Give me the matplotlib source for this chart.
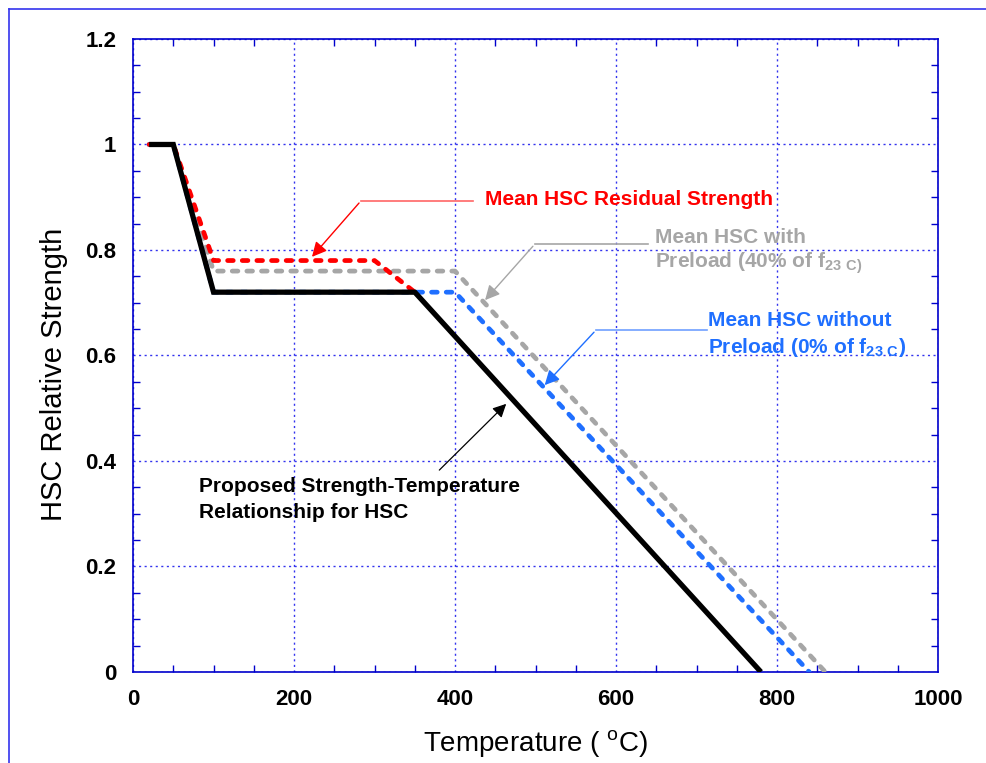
import numpy as np
import matplotlib
matplotlib.use("Agg")
import matplotlib.pyplot as plt
from matplotlib.lines import Line2D

plt.rcParams['font.family'] = ['Liberation Sans', 'DejaVu Sans']

# data (temperature in C, relative strength)
t_prop = [20, 50, 100, 350, 780]
s_prop = [1.0, 1.0, 0.72, 0.72, 0.0]

t_resid = [20, 50, 100, 300, 350]
s_resid = [1.0, 1.0, 0.78, 0.78, 0.72]

t_pre40 = [20, 50, 100, 400, 860]
s_pre40 = [1.0, 1.0, 0.76, 0.76, 0.0]

t_pre0 = [20, 50, 100, 400, 840]
s_pre0 = [1.0, 1.0, 0.72, 0.72, 0.0]

xticks = [0, 200, 400, 600, 800, 1000]
yticks = [0, 0.2, 0.4, 0.6, 0.8, 1.0, 1.2]
ytick_labels = ['0', '0.2', '0.4', '0.6', '0.8', '1', '1.2']

RED = '#ff0000'
GRAY = '#a6a6a6'
BLUE = '#1f6fff'
FRAME = '#0000cc'

fig = plt.figure(figsize=(9.87, 7.63), dpi=100)
ax = fig.add_axes([0.1348, 0.1193, 0.8156, 0.8296])

dash = dict(linestyle=(0, (1.2, 1.9)), dash_capstyle='round', linewidth=3.4)
ax.plot(t_pre40, s_pre40, color=GRAY, zorder=3, **dash)
ax.plot(t_pre0, s_pre0, color=BLUE, zorder=4, **dash)
ax.plot(t_resid, s_resid, color=RED, zorder=5, **dash)
ax.plot(t_prop, s_prop, color='black', linewidth=3.8, zorder=6,
        solid_capstyle='butt', solid_joinstyle='miter')

ax.set_xlim(0, 1000)
ax.set_ylim(0, 1.2)
ax.set_xticks(xticks)
ax.set_yticks(yticks)
ax.set_yticklabels(ytick_labels)
ax.set_xticks(np.arange(0, 1001, 50), minor=True)
ax.set_yticks(np.arange(0, 1.201, 0.05), minor=True)
ax.tick_params(which='both', direction='in', color=FRAME, top=True, right=True,
               width=1.0)
ax.tick_params(which='major', length=0, labelsize=16)
ax.tick_params(which='minor', length=5)
ax.tick_params(axis='x', which='major', pad=12)
ax.tick_params(axis='y', which='major', pad=12)
for lab in ax.get_xticklabels() + ax.get_yticklabels():
    lab.set_fontweight('bold')
for sp in ax.spines.values():
    sp.set_color(FRAME)
    sp.set_linewidth(1.2)
ax.grid(True, which='major', color='#3333ee', linestyle=(0, (1.5, 2.5)), linewidth=1.0)

fig.text(536 / 987, 1 - 744 / 763, 'Temperature ( $^{\\mathregular{o}}$C)',
         fontsize=20, ha='center', va='center')
fig.text(54 / 987, 1 - 374 / 763, 'HSC Relative Strength',
         fontsize=21, ha='center', va='center', rotation=90)

# annotations
tk = dict(fontsize=15, fontweight='bold', va='center', ha='left')

ax.text(437, 0.895, 'Mean HSC Residual Strength', color=RED, **tk)
ax.plot([422, 283], [0.893, 0.893], color='#ff6666', linewidth=1.2, zorder=7)
ax.annotate('', xy=(220, 0.783), xytext=(283, 0.893),
            arrowprops=dict(arrowstyle='-|>', color=RED, lw=1.0,
                            mutation_scale=22), zorder=7)

ax.text(648, 0.823, 'Mean HSC with', color=GRAY, **tk)
ax.text(648, 0.775, 'Preload (40% of f$_{\\mathregular{23\\ C)}}$', color=GRAY, **tk)
ax.plot([640, 499], [0.811, 0.811], color=GRAY, linewidth=1.2, zorder=7)
ax.annotate('', xy=(435, 0.701), xytext=(499, 0.811),
            arrowprops=dict(arrowstyle='-|>', color=GRAY, lw=1.0,
                            mutation_scale=22), zorder=7)

ax.text(714, 0.667, 'Mean HSC without', color=BLUE, **tk)
ax.text(714, 0.616, 'Preload (0% of f$_{\\mathregular{23\\ C}}$)', color=BLUE, **tk)
ax.plot([713, 575], [0.648, 0.648], color='#6f9fff', linewidth=1.2, zorder=7)
ax.annotate('', xy=(509, 0.540), xytext=(575, 0.648),
            arrowprops=dict(arrowstyle='-|>', color=BLUE, lw=1.0,
                            mutation_scale=22), zorder=7)

ax.text(82, 0.351, 'Proposed Strength-Temperature', color='black', **tk)
ax.text(82, 0.303, 'Relationship for HSC', color='black', **tk)
ax.annotate('', xy=(466, 0.512), xytext=(378, 0.379),
            arrowprops=dict(arrowstyle='-|>', color='black', lw=0.9,
                            mutation_scale=20), zorder=7)

# outer frame (left and top edges only visible)
fig.add_artist(Line2D([0.0091, 0.0091], [0.0, 0.988], color='#3333ee', linewidth=1.2))
fig.add_artist(Line2D([0.0091, 1.0], [0.988, 0.988], color='#3333ee', linewidth=1.2))

fig.savefig('out.png', dpi=100)
